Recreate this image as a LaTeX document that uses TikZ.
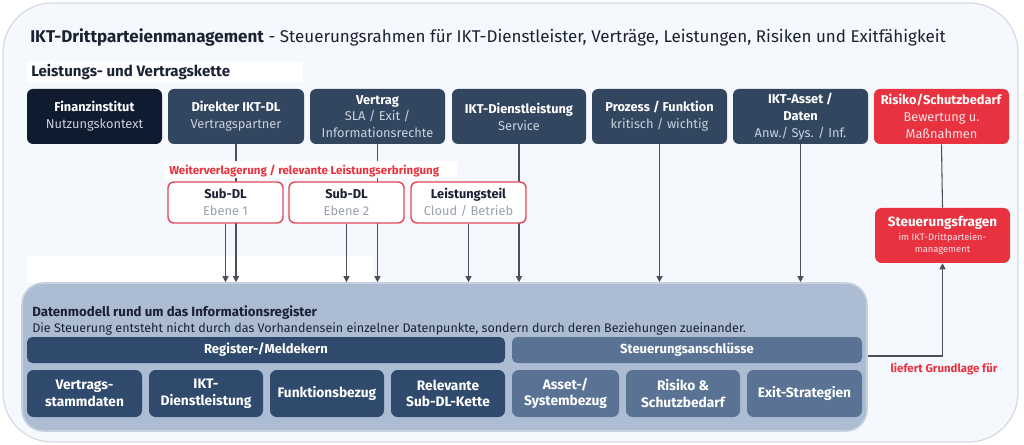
\documentclass[tikz,border=0pt]{standalone}
\usepackage{fontspec}
\setmainfont{Fira Sans}
\usetikzlibrary{arrows.meta}
\definecolor{bgpanel}{HTML}{F5F8FC}
\definecolor{bgborder}{HTML}{D5DAE1}
\definecolor{navy}{HTML}{0F1B2E}
\definecolor{slate}{HTML}{33465F}
\definecolor{riskred}{HTML}{E8323F}
\definecolor{subred}{HTML}{E04A5A}
\definecolor{subgray}{HTML}{9AA1AA}
\definecolor{lightsub}{HTML}{C9D1DC}
\definecolor{risksub}{HTML}{FBE3E5}
\definecolor{dmpanel}{HTML}{ABBCD3}
\definecolor{dmborder}{HTML}{C6D1DF}
\definecolor{coreblue}{HTML}{2F4A6C}
\definecolor{steerblue}{HTML}{5A7394}
\definecolor{conn}{HTML}{4B5058}
\definecolor{textdark}{HTML}{1A2233}
\newcommand{\bx}[7]{\node[#6, minimum width={((#4)-(#2))*0.75pt}, minimum height={((#5)-(#3))*0.75pt}] (#1) at ({((#2)+(#4))/2},{((#3)+(#5))/2}) {#7};}
\tikzset{
  topbox/.style={rounded corners=4.5pt, inner sep=0pt, align=center, fill=slate, text=white,
    font=\fontsize{9.6}{12.6}\selectfont},
  subbox/.style={rounded corners=4.5pt, inner sep=0pt, align=center, fill=white, draw=subred,
    line width=1.1pt, text=textdark, font=\fontsize{9.6}{12.6}\selectfont},
  barbox/.style={rounded corners=4pt, inner sep=0pt, align=center, text=white,
    font=\bfseries\fontsize{9.8}{12.6}\selectfont},
  cellbox/.style={rounded corners=5pt, inner sep=0pt, align=center, text=white,
    font=\bfseries\fontsize{10.3}{12.6}\selectfont},
  conn/.style={draw=conn, line width=0.8pt},
  arr/.style={conn, -{Triangle[length=4.5pt,width=4.5pt]}},
  txt/.style={inner sep=0pt, anchor=west}
}
\begin{document}
\begin{tikzpicture}[x=0.75pt,y=-0.75pt]
\useasboundingbox (0,0) rectangle (1024,445);
% outer panel
\draw[draw=bgborder, fill=bgpanel, line width=0.9pt, rounded corners=37pt] (3,3) rectangle (1018,442);
% white bands
\fill[white] (27,62) rectangle (303,82);
\fill[white] (27,256) rectangle (373,283);
% title
\node[txt, text=textdark, font=\fontsize{12.75}{16}\selectfont] (title) at (30,37)
  {\textbf{IKT-Drittparteienmanagement} - Steuerungsrahmen für IKT-Dienstleister, Verträge, Leistungen, Risiken und Exitfähigkeit};
\node[txt, text=textdark, font=\bfseries\fontsize{11.3}{13}\selectfont] (chain) at (31,72) {Leistungs- und Vertragskette};
% top row
\bx{b1}{27}{89}{162}{144}{topbox, fill=navy}{\textbf{Finanzinstitut}\\{\color{lightsub}Nutzungskontext}}
\bx{b2}{168}{89}{304}{144}{topbox}{\textbf{Direkter IKT-DL}\\{\color{lightsub}Vertragspartner}}
\bx{b3}{310}{89}{445}{144}{topbox}{\textbf{Vertrag}\\{\color{lightsub}SLA / Exit /}\\{\color{lightsub}Informationsrechte}}
\bx{b4}{452}{89}{586}{144}{topbox}{\textbf{IKT-Dienstleistung}\\{\color{lightsub}Service}}
\bx{b5}{592}{89}{727}{144}{topbox}{\textbf{Prozess / Funktion}\\{\color{lightsub}kritisch / wichtig}}
\bx{b6}{733}{89}{868}{144}{topbox}{\textbf{IKT-Asset /}\\\textbf{Daten}\\{\color{lightsub}Anw./ Sys. / Inf.}}
\bx{b7}{874}{89}{1009}{144}{topbox, fill=riskred}{\textbf{Risiko/Schutzbedarf}\\{\color{risksub}Bewertung u.}\\{\color{risksub}Maßnahmen}}
% data model panel
\bx{dm}{22}{283}{867}{431}{rounded corners=16pt, fill=dmpanel, draw=dmborder, line width=1.2pt, inner sep=0pt}{}
% long connectors
\draw[arr] (b2.south) -- (b2.south |- dm.north);
\draw[arr] (b3.south) -- (b3.south |- dm.north);
\draw[arr] (b4.south) -- (b4.south |- dm.north);
\draw[arr] (b5.south) -- (b5.south |- dm.north);
\draw[arr] (b6.south) -- (b6.south |- dm.north);
% red label
\node[inner sep=0pt, minimum width={(457-164)*0.75pt}, minimum height={17*0.75pt}, fill=white] (lblbg) at ({(164+457)/2},169.5) {};
\node[txt, text=riskred, font=\bfseries\fontsize{8.65}{10}\selectfont] (lbl) at (169,171) {Weiterverlagerung / relevante Leistungserbringung};
% sub row
\bx{s1}{168}{182}{283}{223}{subbox}{\textbf{Sub-DL}\\{\color{subgray}Ebene 1}}
\bx{s2}{289}{182}{404}{223}{subbox}{\textbf{Sub-DL}\\{\color{subgray}Ebene 2}}
\bx{s3}{411}{182}{526}{223}{subbox}{\textbf{Leistungsteil}\\{\color{subgray}Cloud / Betrieb}}
\draw[arr] (s1.south) -- (s1.south |- dm.north);
\draw[arr] (s2.south) -- (s2.south |- dm.north);
\draw[arr] (s3.south) -- (s3.south |- dm.north);
% data model texts
\node[txt, text=textdark, font=\bfseries\fontsize{9.95}{12}\selectfont] (dmt) at (32,313) {Datenmodell rund um das Informationsregister};
\node[txt, text=textdark, font=\fontsize{9.4}{12}\selectfont] (dms) at (32,328.5) {Die Steuerung entsteht nicht durch das Vorhandensein einzelner Datenpunkte, sondern durch deren Beziehungen zueinander.};
\bx{core}{27}{337}{505}{363}{barbox, fill=coreblue}{Register-/Meldekern}
\bx{steer}{512}{337}{862}{363}{barbox, fill=steerblue}{Steuerungsanschlüsse}
\bx{c1}{27}{370}{142}{417}{cellbox, fill=coreblue}{Vertrags-\\stammdaten}
\bx{c2}{149}{370}{263}{417}{cellbox, fill=coreblue}{IKT-\\Dienstleistung}
\bx{c3}{270}{370}{384}{417}{cellbox, fill=coreblue}{Funktionsbezug}
\bx{c4}{391}{370}{505}{417}{cellbox, fill=coreblue}{Relevante\\Sub-DL-Kette}
\bx{c5}{512}{370}{619}{417}{cellbox, fill=steerblue}{Asset-/\\Systembezug}
\bx{c6}{626}{370}{740}{417}{cellbox, fill=steerblue}{Risiko \&\\Schutzbedarf}
\bx{c7}{747}{370}{862}{417}{cellbox, fill=steerblue}{Exit-Strategien}
% right side
\bx{sf}{875}{208}{1010}{263}{rounded corners=5pt, inner sep=0pt, align=center, fill=riskred, text=white, font=\fontsize{7}{9.2}\selectfont}{{\bfseries\fontsize{10.1}{13}\selectfont Steuerungsfragen}\\[1.2pt]{\color{risksub}im IKT-Drittparteien-}\\{\color{risksub}management}}
\draw[conn] (b7.south) -- (sf.north);
\coordinate (turn) at (942.5,356);
\draw[arr] (dm.east |- turn) -- (turn) -- (sf.south);
\node[inner sep=0pt, text=riskred, font=\bfseries\fontsize{8.6}{10}\selectfont] (lief) at (944,369) {liefert Grundlage für};
\end{tikzpicture}
\end{document}
